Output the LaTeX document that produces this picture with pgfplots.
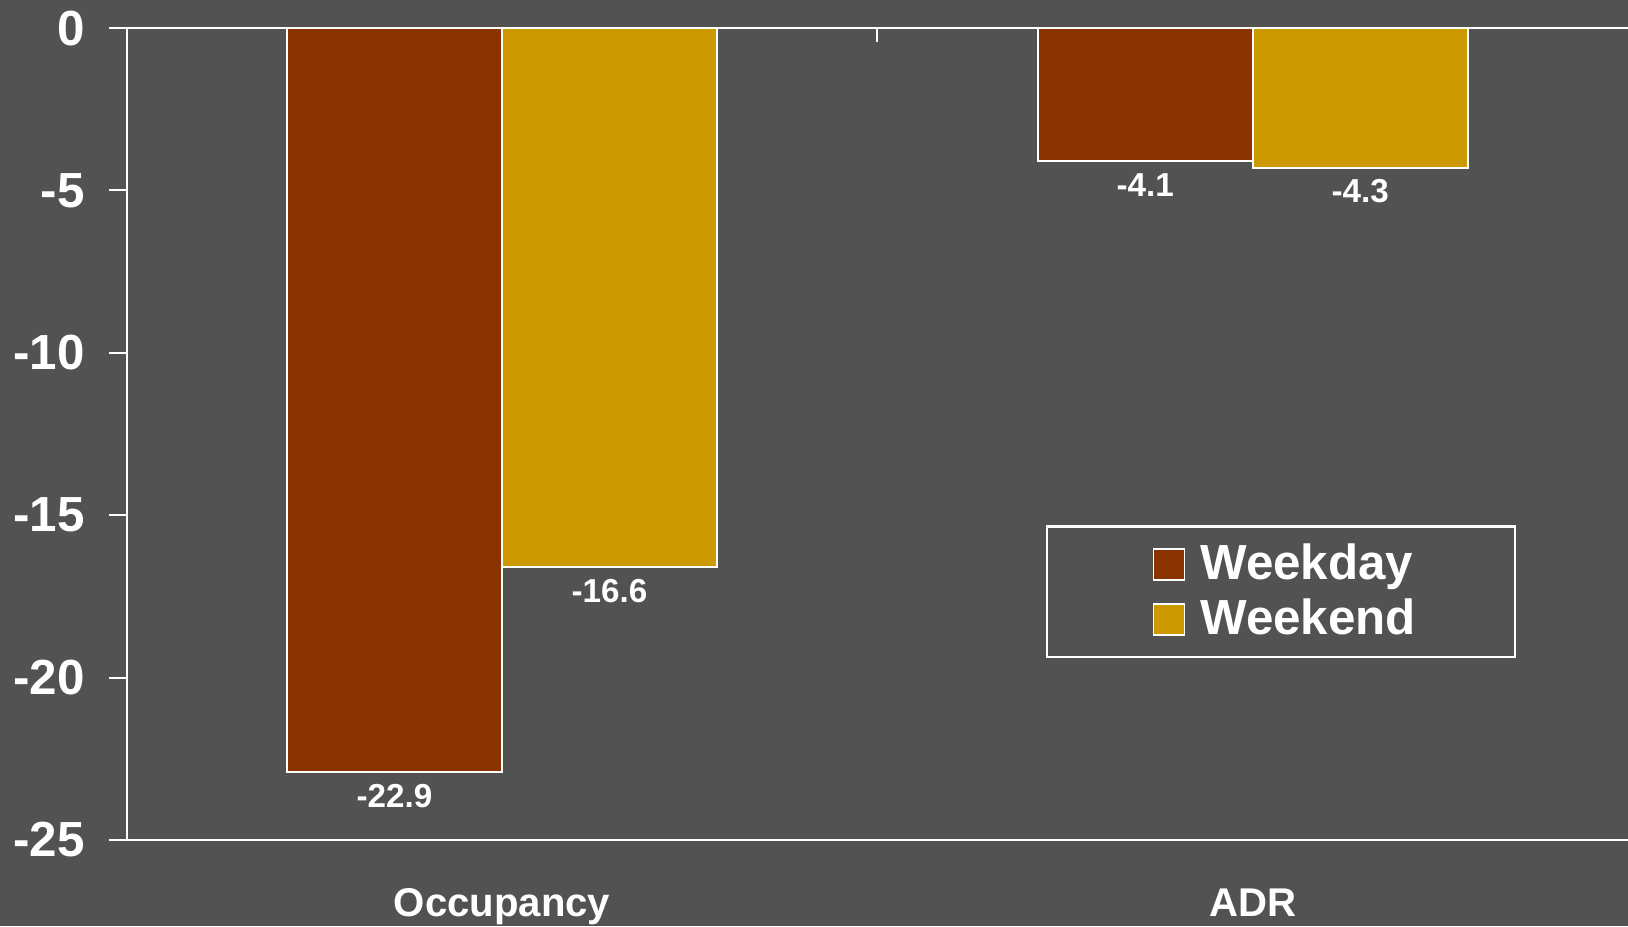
\documentclass[border=0pt]{standalone}
\usepackage{fontspec}
\setmainfont{Liberation Sans}
\usepackage{pgfplots}
\pgfplotsset{compat=1.18}
\definecolor{bg}{RGB}{82,82,82}
\definecolor{wkday}{RGB}{138,51,0}
\definecolor{wkend}{RGB}{204,153,0}
\begin{document}
\begin{tikzpicture}
\path[use as bounding box, fill=bg] (-36.6pt,-24.9pt) rectangle (433.8pt,242.7pt);
\begin{axis}[
  at={(0,0)}, anchor=south west,
  scale only axis, width=433.8pt, height=234.6pt,
  xmin=-0.5, xmax=1.5, ymin=-25, ymax=0,
  clip=false,
  axis x line*=bottom, axis y line*=left,
  axis line style={white, line width=0.6pt},
  xtick={0,1}, xticklabels={Occupancy, ADR},
  x tick style={draw=none},
  ytick={-25,-20,-15,-10,-5,0},
  y tick style={white, line width=0.6pt},
  tick align=outside, major tick length=5.1pt,
  /pgf/number format/assume math mode=true,
  yticklabel style={font=\fontsize{14.25pt}{17pt}\selectfont\bfseries, text=white, inner sep=0pt, xshift=-6.8pt},
  xticklabel style={font=\fontsize{11.6pt}{14pt}\selectfont\bfseries, text=white, anchor=base, yshift=-17.1pt},
  ybar, bar width=62.1pt,
  every axis plot/.append style={draw=white, line width=0.6pt},
  nodes near coords={\pgfmathprintnumber[fixed,precision=1,fixed zerofill]{\pgfplotspointmeta}},
  every node near coord/.append style={font=\fontsize{9.6pt}{11pt}\selectfont\bfseries, text=white, inner sep=3.2pt},
  legend style={draw=white, line width=0.6pt, fill=bg, text=white,
    font=\fontsize{14.25pt}{17pt}\selectfont\bfseries,
    at={(0.7687,0.3056)}, anchor=center, inner xsep=26.5pt, inner ysep=3pt,
    row sep=0.1pt, column sep=2.3pt},
  legend cell align=left,
  legend image code/.code={\path (0pt,0pt); \draw[#1, draw=white, line width=0.5pt] (4pt,-4.5pt) rectangle (13pt,4.5pt);},
]
\addplot[fill=wkday, bar shift=-31.05pt] coordinates {(0,-22.9) (1,-4.1)};
\addplot[fill=wkend, bar shift=31.05pt] coordinates {(0,-16.6) (1,-4.3)};
\legend{Weekday, Weekend}
\draw[white, line width=0.6pt] (axis cs:-0.5,0) -- (axis cs:1.5,0);
\draw[white, line width=0.6pt] (axis cs:0.5,0) -- ([yshift=-4pt]axis cs:0.5,0);
\end{axis}
\end{tikzpicture}
\end{document}
